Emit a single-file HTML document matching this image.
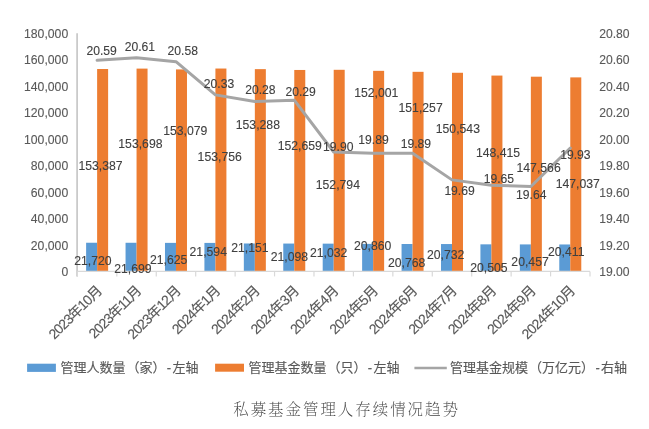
<!DOCTYPE html>
<html><head><meta charset="utf-8"><style>
html,body{margin:0;padding:0;background:#fff;}
svg{display:block;will-change:transform;}
text{font-family:"Liberation Sans", sans-serif;}
.cjk{font-family:"Liberation Sans","Noto Sans CJK SC",sans-serif;}
.ttl{font-family:"Liberation Serif","Noto Serif CJK SC",serif;}
</style></head><body>
<svg width="649" height="429" viewBox="0 0 649 429">
<rect width="649" height="429" fill="#fff"/>
<rect x="86.12" y="242.74" width="11.00" height="28.66" fill="#5B9BD5"/>
<rect x="97.12" y="69.01" width="11.00" height="202.39" fill="#ED7D31"/>
<rect x="125.55" y="242.77" width="11.00" height="28.63" fill="#5B9BD5"/>
<rect x="136.55" y="68.60" width="11.00" height="202.80" fill="#ED7D31"/>
<rect x="164.98" y="242.87" width="11.00" height="28.53" fill="#5B9BD5"/>
<rect x="175.98" y="69.42" width="11.00" height="201.98" fill="#ED7D31"/>
<rect x="204.41" y="242.91" width="11.00" height="28.49" fill="#5B9BD5"/>
<rect x="215.41" y="68.53" width="11.00" height="202.87" fill="#ED7D31"/>
<rect x="243.84" y="243.49" width="11.00" height="27.91" fill="#5B9BD5"/>
<rect x="254.84" y="69.14" width="11.00" height="202.25" fill="#ED7D31"/>
<rect x="283.27" y="243.56" width="11.00" height="27.84" fill="#5B9BD5"/>
<rect x="294.27" y="69.97" width="11.00" height="201.43" fill="#ED7D31"/>
<rect x="322.70" y="243.65" width="11.00" height="27.75" fill="#5B9BD5"/>
<rect x="333.70" y="69.80" width="11.00" height="201.60" fill="#ED7D31"/>
<rect x="362.13" y="243.88" width="11.00" height="27.52" fill="#5B9BD5"/>
<rect x="373.13" y="70.84" width="11.00" height="200.56" fill="#ED7D31"/>
<rect x="401.56" y="244.00" width="11.00" height="27.40" fill="#5B9BD5"/>
<rect x="412.56" y="71.82" width="11.00" height="199.58" fill="#ED7D31"/>
<rect x="440.99" y="244.05" width="11.00" height="27.35" fill="#5B9BD5"/>
<rect x="451.99" y="72.77" width="11.00" height="198.63" fill="#ED7D31"/>
<rect x="480.42" y="244.34" width="11.00" height="27.06" fill="#5B9BD5"/>
<rect x="491.42" y="75.57" width="11.00" height="195.83" fill="#ED7D31"/>
<rect x="519.85" y="244.41" width="11.00" height="26.99" fill="#5B9BD5"/>
<rect x="530.85" y="76.69" width="11.00" height="194.71" fill="#ED7D31"/>
<rect x="559.28" y="244.47" width="11.00" height="26.93" fill="#5B9BD5"/>
<rect x="570.28" y="77.39" width="11.00" height="194.01" fill="#ED7D31"/>
<line x1="77.10" y1="33.30" x2="77.10" y2="276.40" stroke="#C4C4C4" stroke-width="1.6"/>
<line x1="77.40" y1="271.40" x2="590.00" y2="271.40" stroke="#D9D9D9" stroke-width="1.2"/>
<line x1="77.40" y1="271.40" x2="77.40" y2="276.40" stroke="#D9D9D9" stroke-width="1.2"/>
<line x1="116.83" y1="271.40" x2="116.83" y2="276.40" stroke="#D9D9D9" stroke-width="1.2"/>
<line x1="156.26" y1="271.40" x2="156.26" y2="276.40" stroke="#D9D9D9" stroke-width="1.2"/>
<line x1="195.69" y1="271.40" x2="195.69" y2="276.40" stroke="#D9D9D9" stroke-width="1.2"/>
<line x1="235.12" y1="271.40" x2="235.12" y2="276.40" stroke="#D9D9D9" stroke-width="1.2"/>
<line x1="274.55" y1="271.40" x2="274.55" y2="276.40" stroke="#D9D9D9" stroke-width="1.2"/>
<line x1="313.98" y1="271.40" x2="313.98" y2="276.40" stroke="#D9D9D9" stroke-width="1.2"/>
<line x1="353.42" y1="271.40" x2="353.42" y2="276.40" stroke="#D9D9D9" stroke-width="1.2"/>
<line x1="392.85" y1="271.40" x2="392.85" y2="276.40" stroke="#D9D9D9" stroke-width="1.2"/>
<line x1="432.28" y1="271.40" x2="432.28" y2="276.40" stroke="#D9D9D9" stroke-width="1.2"/>
<line x1="471.71" y1="271.40" x2="471.71" y2="276.40" stroke="#D9D9D9" stroke-width="1.2"/>
<line x1="511.14" y1="271.40" x2="511.14" y2="276.40" stroke="#D9D9D9" stroke-width="1.2"/>
<line x1="550.57" y1="271.40" x2="550.57" y2="276.40" stroke="#D9D9D9" stroke-width="1.2"/>
<line x1="590.00" y1="271.40" x2="590.00" y2="276.40" stroke="#D9D9D9" stroke-width="1.2"/>
<path d="M97.12,60.35 C97.12,60.35 136.55,57.69 136.55,57.69 C136.55,57.69 175.98,61.68 175.98,61.68 C175.98,61.68 215.41,94.88 215.41,94.88 C215.41,94.88 254.84,101.52 254.84,101.52 C254.84,101.52 294.27,100.19 294.27,100.19 C294.27,100.19 333.70,151.98 333.70,151.98 C333.70,151.98 373.13,153.31 373.13,153.31 C373.13,153.31 412.56,153.31 412.56,153.31 C412.56,153.31 451.99,179.87 451.99,179.87 C451.99,179.87 491.42,185.18 491.42,185.18 C491.42,185.18 530.85,186.51 530.85,186.51 C530.85,186.51 570.28,148.00 570.28,148.00" fill="none" stroke="#A5A5A5" stroke-width="3" stroke-linejoin="round" stroke-linecap="round"/>
<text transform="translate(68.20,276.02) scale(0.893,1)" text-anchor="end" font-size="13.6" fill="#595959" stroke="#595959" stroke-width="0.12">0</text>
<text transform="translate(68.20,249.57) scale(0.9,1)" text-anchor="end" font-size="13.6" fill="#595959" stroke="#595959" stroke-width="0.12">20,000</text>
<text transform="translate(68.20,223.11) scale(0.9,1)" text-anchor="end" font-size="13.6" fill="#595959" stroke="#595959" stroke-width="0.12">40,000</text>
<text transform="translate(68.20,196.66) scale(0.9,1)" text-anchor="end" font-size="13.6" fill="#595959" stroke="#595959" stroke-width="0.12">60,000</text>
<text transform="translate(68.20,170.20) scale(0.9,1)" text-anchor="end" font-size="13.6" fill="#595959" stroke="#595959" stroke-width="0.12">80,000</text>
<text transform="translate(68.20,143.75) scale(0.9,1)" text-anchor="end" font-size="13.6" fill="#595959" stroke="#595959" stroke-width="0.12">100,000</text>
<text transform="translate(68.20,117.29) scale(0.9,1)" text-anchor="end" font-size="13.6" fill="#595959" stroke="#595959" stroke-width="0.12">120,000</text>
<text transform="translate(68.20,90.84) scale(0.9,1)" text-anchor="end" font-size="13.6" fill="#595959" stroke="#595959" stroke-width="0.12">140,000</text>
<text transform="translate(68.20,64.38) scale(0.9,1)" text-anchor="end" font-size="13.6" fill="#595959" stroke="#595959" stroke-width="0.12">160,000</text>
<text transform="translate(68.20,37.92) scale(0.9,1)" text-anchor="end" font-size="13.6" fill="#595959" stroke="#595959" stroke-width="0.12">180,000</text>
<text transform="translate(599.20,276.02) scale(0.893,1)" text-anchor="start" font-size="13.6" fill="#595959" stroke="#595959" stroke-width="0.12">19.00</text>
<text transform="translate(599.20,249.57) scale(0.893,1)" text-anchor="start" font-size="13.6" fill="#595959" stroke="#595959" stroke-width="0.12">19.20</text>
<text transform="translate(599.20,223.11) scale(0.893,1)" text-anchor="start" font-size="13.6" fill="#595959" stroke="#595959" stroke-width="0.12">19.40</text>
<text transform="translate(599.20,196.66) scale(0.893,1)" text-anchor="start" font-size="13.6" fill="#595959" stroke="#595959" stroke-width="0.12">19.60</text>
<text transform="translate(599.20,170.20) scale(0.893,1)" text-anchor="start" font-size="13.6" fill="#595959" stroke="#595959" stroke-width="0.12">19.80</text>
<text transform="translate(599.20,143.75) scale(0.893,1)" text-anchor="start" font-size="13.6" fill="#595959" stroke="#595959" stroke-width="0.12">20.00</text>
<text transform="translate(599.20,117.29) scale(0.893,1)" text-anchor="start" font-size="13.6" fill="#595959" stroke="#595959" stroke-width="0.12">20.20</text>
<text transform="translate(599.20,90.84) scale(0.893,1)" text-anchor="start" font-size="13.6" fill="#595959" stroke="#595959" stroke-width="0.12">20.40</text>
<text transform="translate(599.20,64.38) scale(0.893,1)" text-anchor="start" font-size="13.6" fill="#595959" stroke="#595959" stroke-width="0.12">20.60</text>
<text transform="translate(599.20,37.92) scale(0.893,1)" text-anchor="start" font-size="13.6" fill="#595959" stroke="#595959" stroke-width="0.12">20.80</text>
<text transform="translate(92.85,264.92) scale(0.9,1)" text-anchor="middle" font-size="13.6" fill="#404040" stroke="#404040" stroke-width="0.12">21,720</text>
<text transform="translate(100.55,169.57) scale(0.9,1)" text-anchor="middle" font-size="13.6" fill="#404040" stroke="#404040" stroke-width="0.12">153,387</text>
<text transform="translate(101.60,55.12) scale(0.893,1)" text-anchor="middle" font-size="13.6" fill="#404040" stroke="#404040" stroke-width="0.12">20.59</text>
<text transform="translate(132.85,273.07) scale(0.9,1)" text-anchor="middle" font-size="13.6" fill="#404040" stroke="#404040" stroke-width="0.12">21,699</text>
<text transform="translate(140.40,147.92) scale(0.9,1)" text-anchor="middle" font-size="13.6" fill="#404040" stroke="#404040" stroke-width="0.12">153,698</text>
<text transform="translate(139.85,51.12) scale(0.893,1)" text-anchor="middle" font-size="13.6" fill="#404040" stroke="#404040" stroke-width="0.12">20.61</text>
<text transform="translate(168.65,263.97) scale(0.9,1)" text-anchor="middle" font-size="13.6" fill="#404040" stroke="#404040" stroke-width="0.12">21,625</text>
<text transform="translate(185.30,135.07) scale(0.9,1)" text-anchor="middle" font-size="13.6" fill="#404040" stroke="#404040" stroke-width="0.12">153,079</text>
<text transform="translate(182.70,55.37) scale(0.893,1)" text-anchor="middle" font-size="13.6" fill="#404040" stroke="#404040" stroke-width="0.12">20.58</text>
<text transform="translate(208.25,256.27) scale(0.9,1)" text-anchor="middle" font-size="13.6" fill="#404040" stroke="#404040" stroke-width="0.12">21,594</text>
<text transform="translate(219.70,161.47) scale(0.9,1)" text-anchor="middle" font-size="13.6" fill="#404040" stroke="#404040" stroke-width="0.12">153,756</text>
<text transform="translate(219.00,87.72) scale(0.893,1)" text-anchor="middle" font-size="13.6" fill="#404040" stroke="#404040" stroke-width="0.12">20.33</text>
<text transform="translate(249.90,251.82) scale(0.9,1)" text-anchor="middle" font-size="13.6" fill="#404040" stroke="#404040" stroke-width="0.12">21,151</text>
<text transform="translate(257.85,128.57) scale(0.9,1)" text-anchor="middle" font-size="13.6" fill="#404040" stroke="#404040" stroke-width="0.12">153,288</text>
<text transform="translate(260.40,93.67) scale(0.893,1)" text-anchor="middle" font-size="13.6" fill="#404040" stroke="#404040" stroke-width="0.12">20.28</text>
<text transform="translate(289.45,261.07) scale(0.9,1)" text-anchor="middle" font-size="13.6" fill="#404040" stroke="#404040" stroke-width="0.12">21,098</text>
<text transform="translate(299.75,149.57) scale(0.9,1)" text-anchor="middle" font-size="13.6" fill="#404040" stroke="#404040" stroke-width="0.12">152,659</text>
<text transform="translate(300.65,95.72) scale(0.893,1)" text-anchor="middle" font-size="13.6" fill="#404040" stroke="#404040" stroke-width="0.12">20.29</text>
<text transform="translate(328.70,256.62) scale(0.9,1)" text-anchor="middle" font-size="13.6" fill="#404040" stroke="#404040" stroke-width="0.12">21,032</text>
<text transform="translate(337.85,188.77) scale(0.9,1)" text-anchor="middle" font-size="13.6" fill="#404040" stroke="#404040" stroke-width="0.12">152,794</text>
<text transform="translate(338.25,150.97) scale(0.893,1)" text-anchor="middle" font-size="13.6" fill="#404040" stroke="#404040" stroke-width="0.12">19.90</text>
<text transform="translate(372.65,250.37) scale(0.9,1)" text-anchor="middle" font-size="13.6" fill="#404040" stroke="#404040" stroke-width="0.12">20,860</text>
<text transform="translate(376.30,97.17) scale(0.9,1)" text-anchor="middle" font-size="13.6" fill="#404040" stroke="#404040" stroke-width="0.12">152,001</text>
<text transform="translate(373.50,143.97) scale(0.893,1)" text-anchor="middle" font-size="13.6" fill="#404040" stroke="#404040" stroke-width="0.12">19.89</text>
<text transform="translate(406.70,267.42) scale(0.9,1)" text-anchor="middle" font-size="13.6" fill="#404040" stroke="#404040" stroke-width="0.12">20,768</text>
<text transform="translate(420.60,111.82) scale(0.9,1)" text-anchor="middle" font-size="13.6" fill="#404040" stroke="#404040" stroke-width="0.12">151,257</text>
<text transform="translate(415.85,148.22) scale(0.893,1)" text-anchor="middle" font-size="13.6" fill="#404040" stroke="#404040" stroke-width="0.12">19.89</text>
<text transform="translate(445.60,259.17) scale(0.9,1)" text-anchor="middle" font-size="13.6" fill="#404040" stroke="#404040" stroke-width="0.12">20,732</text>
<text transform="translate(457.85,132.82) scale(0.9,1)" text-anchor="middle" font-size="13.6" fill="#404040" stroke="#404040" stroke-width="0.12">150,543</text>
<text transform="translate(459.55,194.67) scale(0.893,1)" text-anchor="middle" font-size="13.6" fill="#404040" stroke="#404040" stroke-width="0.12">19.69</text>
<text transform="translate(488.95,271.82) scale(0.9,1)" text-anchor="middle" font-size="13.6" fill="#404040" stroke="#404040" stroke-width="0.12">20,505</text>
<text transform="translate(498.05,157.27) scale(0.9,1)" text-anchor="middle" font-size="13.6" fill="#404040" stroke="#404040" stroke-width="0.12">148,415</text>
<text transform="translate(498.90,182.62) scale(0.893,1)" text-anchor="middle" font-size="13.6" fill="#404040" stroke="#404040" stroke-width="0.12">19.65</text>
<text transform="translate(530.05,266.07) scale(0.9,1)" text-anchor="middle" font-size="13.6" fill="#404040" stroke="#404040" stroke-width="0.12">20,457</text>
<text transform="translate(538.60,171.97) scale(0.9,1)" text-anchor="middle" font-size="13.6" fill="#404040" stroke="#404040" stroke-width="0.12">147,566</text>
<text transform="translate(531.25,199.27) scale(0.893,1)" text-anchor="middle" font-size="13.6" fill="#404040" stroke="#404040" stroke-width="0.12">19.64</text>
<text transform="translate(566.20,256.47) scale(0.9,1)" text-anchor="middle" font-size="13.6" fill="#404040" stroke="#404040" stroke-width="0.12">20,411</text>
<text transform="translate(577.75,188.07) scale(0.9,1)" text-anchor="middle" font-size="13.6" fill="#404040" stroke="#404040" stroke-width="0.12">147,037</text>
<text transform="translate(575.40,158.72) scale(0.893,1)" text-anchor="middle" font-size="13.6" fill="#404040" stroke="#404040" stroke-width="0.12">19.93</text>
<text transform="translate(102.47,292.00) rotate(-45)" text-anchor="end" font-size="14" fill="#595959" stroke="#595959" stroke-width="0.15" class="cjk" letter-spacing="-0.85">2023年10月</text>
<text transform="translate(141.90,292.00) rotate(-45)" text-anchor="end" font-size="14" fill="#595959" stroke="#595959" stroke-width="0.15" class="cjk" letter-spacing="-0.85">2023年11月</text>
<text transform="translate(181.33,292.00) rotate(-45)" text-anchor="end" font-size="14" fill="#595959" stroke="#595959" stroke-width="0.15" class="cjk" letter-spacing="-0.85">2023年12月</text>
<text transform="translate(220.76,292.00) rotate(-45)" text-anchor="end" font-size="14" fill="#595959" stroke="#595959" stroke-width="0.15" class="cjk" letter-spacing="-0.85">2024年1月</text>
<text transform="translate(260.19,292.00) rotate(-45)" text-anchor="end" font-size="14" fill="#595959" stroke="#595959" stroke-width="0.15" class="cjk" letter-spacing="-0.85">2024年2月</text>
<text transform="translate(299.62,292.00) rotate(-45)" text-anchor="end" font-size="14" fill="#595959" stroke="#595959" stroke-width="0.15" class="cjk" letter-spacing="-0.85">2024年3月</text>
<text transform="translate(339.05,292.00) rotate(-45)" text-anchor="end" font-size="14" fill="#595959" stroke="#595959" stroke-width="0.15" class="cjk" letter-spacing="-0.85">2024年4月</text>
<text transform="translate(378.48,292.00) rotate(-45)" text-anchor="end" font-size="14" fill="#595959" stroke="#595959" stroke-width="0.15" class="cjk" letter-spacing="-0.85">2024年5月</text>
<text transform="translate(417.91,292.00) rotate(-45)" text-anchor="end" font-size="14" fill="#595959" stroke="#595959" stroke-width="0.15" class="cjk" letter-spacing="-0.85">2024年6月</text>
<text transform="translate(457.34,292.00) rotate(-45)" text-anchor="end" font-size="14" fill="#595959" stroke="#595959" stroke-width="0.15" class="cjk" letter-spacing="-0.85">2024年7月</text>
<text transform="translate(496.77,292.00) rotate(-45)" text-anchor="end" font-size="14" fill="#595959" stroke="#595959" stroke-width="0.15" class="cjk" letter-spacing="-0.85">2024年8月</text>
<text transform="translate(536.20,292.00) rotate(-45)" text-anchor="end" font-size="14" fill="#595959" stroke="#595959" stroke-width="0.15" class="cjk" letter-spacing="-0.85">2024年9月</text>
<text transform="translate(575.63,292.00) rotate(-45)" text-anchor="end" font-size="14" fill="#595959" stroke="#595959" stroke-width="0.15" class="cjk" letter-spacing="-0.85">2024年10月</text>
<rect x="27.1" y="363.7" width="28.8" height="8.2" fill="#5B9BD5"/>
<text x="60.5" y="372.10" class="cjk" font-size="13" fill="#595959" stroke="#595959" stroke-width="0.15">管理人数量<tspan dx="1">（家）</tspan><tspan dx="1.3">-</tspan><tspan dx="1.3">左轴</tspan></text>
<rect x="215.1" y="363.7" width="28.9" height="8.0" fill="#ED7D31"/>
<text x="248.4" y="372.10" class="cjk" font-size="13" fill="#595959" stroke="#595959" stroke-width="0.15">管理基金数量<tspan dx="1">（只）</tspan><tspan dx="1.3">-</tspan><tspan dx="1.3">左轴</tspan></text>
<line x1="414.4" y1="368" x2="446.8" y2="368" stroke="#A5A5A5" stroke-width="2.7"/>
<text x="450.1" y="372.10" class="cjk" font-size="13" fill="#595959" stroke="#595959" stroke-width="0.15">管理基金规模<tspan dx="1">（万亿元）</tspan><tspan dx="1.3">-</tspan><tspan dx="1.3">右轴</tspan></text>
<text x="233.2" y="415" class="ttl" font-weight="200" font-size="15.5" letter-spacing="1.94" fill="#454545">私募基金管理人存续情况趋势</text>
</svg>
</body></html>
